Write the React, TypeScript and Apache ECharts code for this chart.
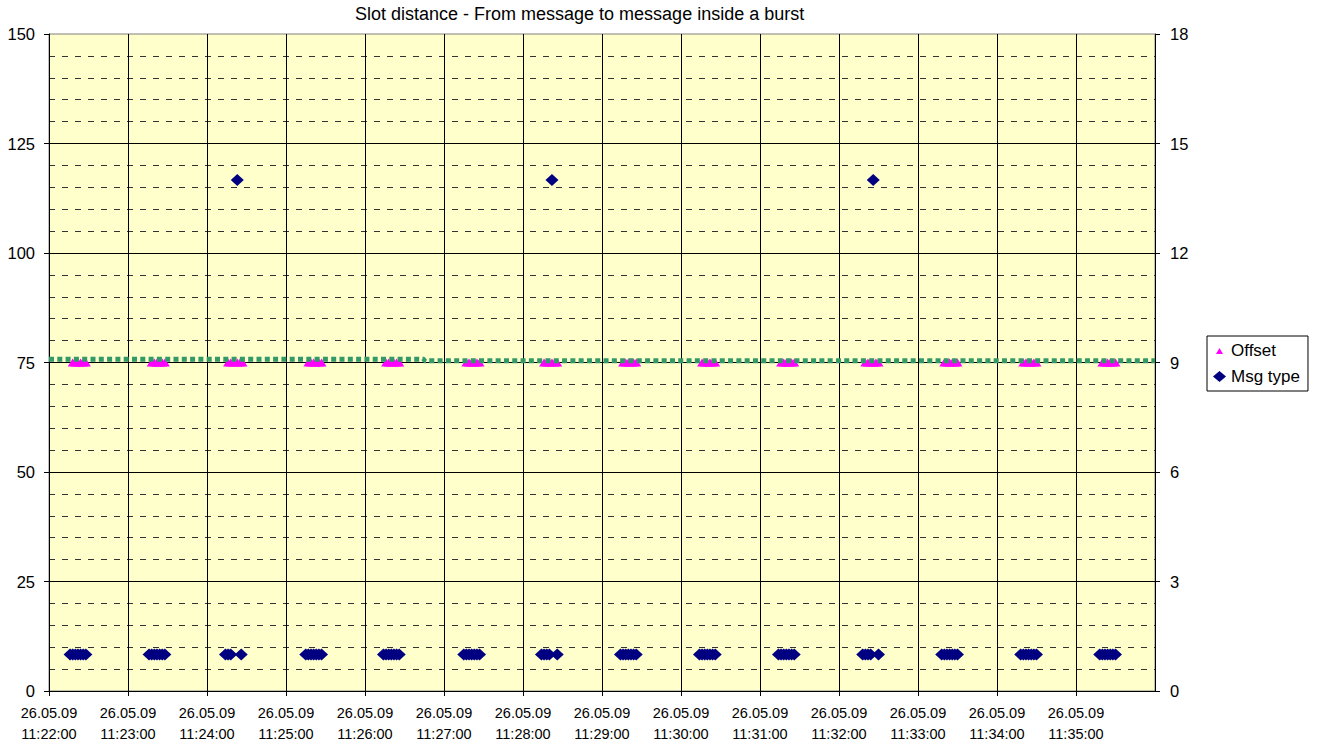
import React, { useEffect, useRef } from "react";
import * as echarts from "echarts";

// ---- data ----
const titleText = "Slot distance - From message to message inside a burst";
const burstMinutes = ["11:22", "11:23", "11:24", "11:25", "11:26", "11:27", "11:28", "11:29", "11:30", "11:31", "11:32", "11:33", "11:34", "11:35"];
// seconds (within the minute) of each message in the burst
const msgSeconds = [
  [16, 18, 20, 22, 24, 26, 28],
  [16, 18, 20, 22, 24, 26, 28],
  [14, 16, 18, 23, 26],
  [15, 17, 19, 21, 23, 25, 27],
  [14, 16, 18, 20, 22, 24, 26],
  [15, 17, 19, 21, 23, 25, 27],
  [14, 16, 18, 20, 22, 26],
  [14, 16, 18, 20, 22, 24, 26],
  [14, 16, 18, 20, 22, 24, 26],
  [14, 16, 18, 20, 22, 24, 26],
  [18, 20, 22, 24, 26, 30],
  [18, 20, 22, 24, 26, 28, 30],
  [18, 20, 22, 24, 26, 28, 30],
  [18, 20, 22, 24, 26, 28, 30],
];
const msgTypes = [
  [1, 1, 1, 1, 1, 1, 1],
  [1, 1, 1, 1, 1, 1, 1],
  [1, 1, 1, 14, 1],
  [1, 1, 1, 1, 1, 1, 1],
  [1, 1, 1, 1, 1, 1, 1],
  [1, 1, 1, 1, 1, 1, 1],
  [1, 1, 1, 1, 14, 1],
  [1, 1, 1, 1, 1, 1, 1],
  [1, 1, 1, 1, 1, 1, 1],
  [1, 1, 1, 1, 1, 1, 1],
  [1, 1, 1, 1, 14, 1],
  [1, 1, 1, 1, 1, 1, 1],
  [1, 1, 1, 1, 1, 1, 1],
  [1, 1, 1, 1, 1, 1, 1],
];
const offsetSeconds = [
  [18, 20, 22, 24, 26, 28],
  [18, 20, 22, 24, 26, 28],
  [16, 18, 20, 23, 25, 27],
  [17, 19, 21, 23, 25, 27],
  [16, 18, 20, 22, 24, 26],
  [17, 19, 21, 23, 25, 27],
  [16, 18, 20, 22, 24, 26],
  [16, 18, 20, 22, 24, 26],
  [16, 18, 20, 22, 24, 26],
  [16, 18, 20, 22, 24, 26],
  [20, 22, 24, 26, 28, 30],
  [20, 22, 24, 26, 28, 30],
  [20, 22, 24, 26, 28, 30],
  [20, 22, 24, 26, 28, 30],
];
const offsetValues = offsetSeconds.map((arr) => arr.map(() => 75));
const trendTimes = ["11:22:00", "11:26:45", "11:26:45", "11:36:00"];
const trendValues = [75.75, 75.75, 75.4, 75.4];
const xStart = "11:22:00";
const xEnd = "11:36:00";

// ---- helpers ----
const DAY = Date.UTC(2009, 4, 26);
function toMs(hms: string, extraSec = 0): number {
  const p = hms.split(":").map(Number);
  const h = p[0], m = p[1], s = p[2] || 0;
  return DAY + ((h * 60 + m) * 60 + s + extraSec) * 1000;
}
const pad = (n: number) => (n < 10 ? "0" + n : "" + n);

const FONT = "Arial, 'Liberation Sans', Helvetica, sans-serif";

export default function App() {
  const ref = useRef<HTMLDivElement>(null);
  useEffect(() => {
    if (!ref.current) return;
    const chart = echarts.init(ref.current, undefined, { renderer: "svg" });

    const msgData: number[][] = [];
    const offData: number[][] = [];
    burstMinutes.forEach((mn, i) => {
      msgSeconds[i].forEach((s, j) => msgData.push([toMs(mn, s), msgTypes[i][j]]));
      offsetSeconds[i].forEach((s, j) => offData.push([toMs(mn, s), offsetValues[i][j]]));
    });
    const trendData = trendTimes.map((tt, i) => [toMs(tt), trendValues[i]]);

    const option: any = {
      animation: false,
      backgroundColor: "#ffffff",
      textStyle: { fontFamily: FONT },
      title: {
        text: titleText,
        left: 355,
        top: 4,
        padding: 0,
        textStyle: { fontFamily: FONT, fontSize: 18, fontWeight: "normal", color: "#000", lineHeight: 20 },
      },
      legend: {
        orient: "vertical",
        left: 1207,
        top: 336,
        padding: [5, 8, 5, 6],
        itemGap: 7,
        itemWidth: 13,
        itemHeight: 11,
        borderColor: "#000",
        borderWidth: 1,
        backgroundColor: "#fff",
        borderRadius: 0,
        textStyle: { fontFamily: FONT, fontSize: 17, color: "#000", lineHeight: 19 },
        data: [
          { name: "Offset", icon: "path://M0,0L0.01,0M13,11L12.99,11M3,9L10,9L6.5,3Z" },
          { name: "Msg type", icon: "diamond" },
        ],
      },
      grid: {
        left: 49,
        right: 163,
        top: 34,
        bottom: 55,
        show: true,
        backgroundColor: "#FFFFCC",
        borderColor: "#808080",
        borderWidth: 1,
      },
      xAxis: {
        type: "value",
        min: toMs(xStart),
        max: toMs(xEnd),
        interval: 60000,
        axisLine: { show: true, lineStyle: { color: "#000", width: 1 } },
        axisTick: { show: true, length: 5, inside: false, lineStyle: { color: "#000" } },
        axisLabel: {
          showMaxLabel: false,
          margin: 11,
          fontFamily: FONT,
          fontSize: 14.5,
          lineHeight: 21,
          color: "#000",
          formatter: (v: number) => {
            const d = new Date(v);
            return (
              pad(d.getUTCDate()) + "." + pad(d.getUTCMonth() + 1) + "." + pad(d.getUTCFullYear() % 100) +
              "\n" + pad(d.getUTCHours()) + ":" + pad(d.getUTCMinutes()) + ":" + pad(d.getUTCSeconds())
            );
          },
        },
        splitLine: { show: true, lineStyle: { color: "#000", width: 1 } },
      },
      yAxis: [
        {
          type: "value",
          min: 0,
          max: 150,
          interval: 25,
          axisLine: { show: true, lineStyle: { color: "#000" } },
          axisTick: { show: true, length: 5, lineStyle: { color: "#000" } },
          axisLabel: { margin: 14, fontFamily: FONT, fontSize: 16.5, color: "#000" },
          splitLine: { show: true, showMaxLine: false, lineStyle: { color: "#000", width: 1 } },
          minorTick: { show: false, splitNumber: 5 },
          minorSplitLine: { show: true, lineStyle: { color: "#333", width: 1, type: [6, 7] } },
        },
        {
          type: "value",
          min: 0,
          max: 18,
          interval: 3,
          position: "right",
          axisLine: { show: true, lineStyle: { color: "#000" } },
          axisTick: { show: true, length: 5, lineStyle: { color: "#000" } },
          axisLabel: { margin: 15, fontFamily: FONT, fontSize: 16.5, color: "#000" },
          splitLine: { show: false },
        },
      ],
      series: [
        {
          name: "Offset",
          type: "scatter",
          yAxisIndex: 0,
          symbol: "triangle",
          symbolSize: [10, 8],
          itemStyle: { color: "#FF00FF", opacity: 1 },
          data: offData,
          z: 2,
        },
        {
          name: "Msg type",
          type: "scatter",
          yAxisIndex: 1,
          symbol: "diamond",
          symbolSize: [13, 12],
          itemStyle: { color: "#000080", opacity: 1 },
          data: msgData,
          z: 2,
        },
        {
          name: "Trend",
          type: "line",
          yAxisIndex: 0,
          showSymbol: false,
          symbol: "none",
          lineStyle: { color: "#339966", width: 5, type: [5, 3.3], cap: "butt" },
          data: trendData,
          z: 3,
          silent: true,
        },
      ],
    };
    chart.setOption(option);
    return () => chart.dispose();
  }, []);
  return <div ref={ref} style={{ position: "fixed", left: 0, top: 0, width: 1318, height: 746 }} />;
}
